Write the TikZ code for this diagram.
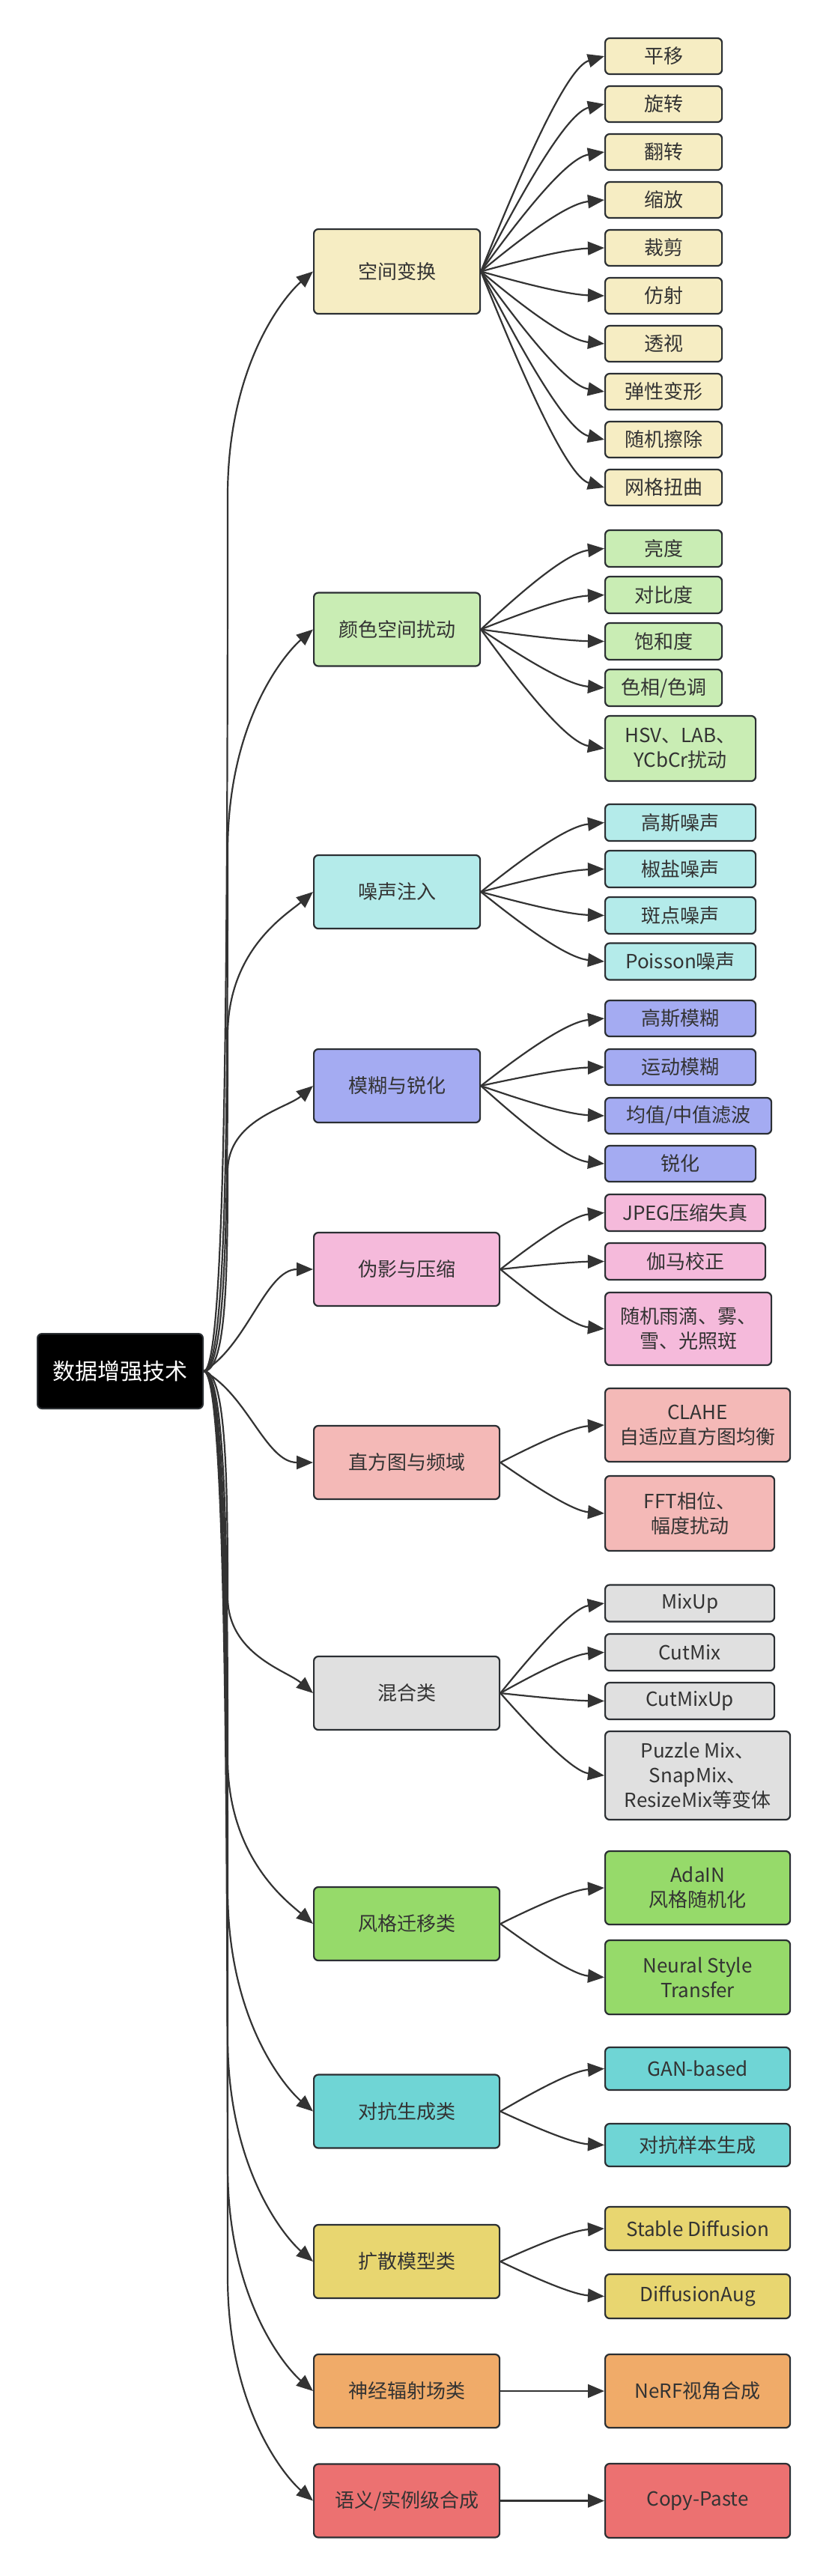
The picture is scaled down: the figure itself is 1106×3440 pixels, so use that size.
\documentclass[tikz,border=0pt]{standalone}
\usepackage{fontspec}
\setmainfont{Noto Sans CJK SC}
\usetikzlibrary{arrows.meta,calc}
\definecolor{bordc}{HTML}{2B2F33}
\definecolor{edgec}{HTML}{333333}
\definecolor{textc}{HTML}{333333}
\definecolor{fA}{HTML}{F6EDC3}
\definecolor{fB}{HTML}{C9EDB4}
\definecolor{fC}{HTML}{B4EBEA}
\definecolor{fD}{HTML}{A4ABF2}
\definecolor{fE}{HTML}{F5BADB}
\definecolor{fF}{HTML}{F4B9B7}
\definecolor{fG}{HTML}{E0E0E0}
\definecolor{fH}{HTML}{96DA6A}
\definecolor{fI}{HTML}{6FD5D5}
\definecolor{fJ}{HTML}{E8D670}
\definecolor{fK}{HTML}{F0AB69}
\definecolor{fL}{HTML}{EC7171}
\newcommand\redge[2]{%
 \pgfmathsetmacro\rdd{#2-1831}%
 \pgfmathsetmacro\raa{abs(\rdd)}%
 \pgfmathsetmacro\rss{\rdd>0 ? 1 : -1}%
 \ifdim\raa pt<200pt
  \pgfmathsetmacro\rcy{1831+0.25*\rdd}%
  \draw[arr] (root.east) .. controls (330,\rcy) and (355,#2) .. (#1.west);
 \else
  \pgfmathsetmacro\rL{min(300,max(80,0.3*\raa))}%
  \pgfmathsetmacro\rmy{#2-\rss*\rL}%
  \pgfmathsetmacro\ray{1831+\rss*0.4*(\raa-\rL)}%
  \pgfmathsetmacro\rby{#2-\rss*0.4*\rL}%
  \pgfmathsetmacro\rey{#2-\rss*30}%
  \draw[arr] (root.east) .. controls (300,1831) and (304,\ray) .. (304,\rmy) .. controls (304,\rby) and (383,\rey) .. (#1.west);
 \fi}
\newcommand\ledge[2]{%
 \draw[arr] let \p1=(#1.east), \p2=(#2.west) in (\p1) .. controls ({\x1+0.35*(\x2-\x1)},{\y1+0.5*(\y2-\y1)}) and ({\x2-0.3*(\x2-\x1)},{\y2+0.05*(\y1-\y2)}) .. (\p2);}
\begin{document}
\begin{tikzpicture}[x=1pt,y=-1pt,
  box/.style={draw=bordc, line width=2.2pt, rounded corners=6pt, inner sep=0pt,
    align=center, text=textc, font=\fontsize{26}{33}\selectfont, anchor=west},
  cat/.style={box, minimum height=98pt},
  leaf/.style={box, minimum height=48pt},
  arr/.style={draw=edgec, line width=2.2pt, -{Triangle[length=22pt,width=18pt]}}]
\useasboundingbox (0,0) rectangle (1106,3440);
% root
\node[draw=bordc, line width=2pt, rounded corners=6pt, fill=black, text=white,
  minimum width=221pt, minimum height=100pt, inner sep=0pt,
  font=\fontsize{30}{36}\selectfont] (root) at (160.5,1831) {数据增强技术};
% categories
\node[cat, fill=fA, minimum width=222pt, minimum height=113pt] (c1) at (418,362.5) {空间变换};
\node[cat, fill=fB, minimum width=222pt] (c2) at (418,840.5) {颜色空间扰动};
\node[cat, fill=fC, minimum width=222pt] (c3) at (418,1191) {噪声注入};
\node[cat, fill=fD, minimum width=222pt] (c4) at (418,1450) {模糊与锐化};
\node[cat, fill=fE, minimum width=248pt] (c5) at (418,1695) {伪影与压缩};
\node[cat, fill=fF, minimum width=248pt] (c6) at (418,1953) {直方图与频域};
\node[cat, fill=fG, minimum width=248pt] (c7) at (418,2261) {混合类};
\node[cat, fill=fH, minimum width=248pt] (c8) at (418,2569) {风格迁移类};
\node[cat, fill=fI, minimum width=248pt] (c9) at (418,2819.5) {对抗生成类};
\node[cat, fill=fJ, minimum width=248pt] (c10) at (418,3020) {扩散模型类};
\node[cat, fill=fK, minimum width=248pt] (c11) at (418,3193) {神经辐射场类};
\node[cat, fill=fL, minimum width=248pt] (c12) at (418,3339.5) {语义/实例级合成};
% leaves of c1
\node[leaf, fill=fA, minimum width=156pt] (a1) at (807,75) {平移};
\node[leaf, fill=fA, minimum width=156pt] (a2) at (807,139) {旋转};
\node[leaf, fill=fA, minimum width=156pt] (a3) at (807,203) {翻转};
\node[leaf, fill=fA, minimum width=156pt] (a4) at (807,267) {缩放};
\node[leaf, fill=fA, minimum width=156pt] (a5) at (807,331) {裁剪};
\node[leaf, fill=fA, minimum width=156pt] (a6) at (807,395) {仿射};
\node[leaf, fill=fA, minimum width=156pt] (a7) at (807,459) {透视};
\node[leaf, fill=fA, minimum width=156pt] (a8) at (807,523) {弹性变形};
\node[leaf, fill=fA, minimum width=156pt] (a9) at (807,587) {随机擦除};
\node[leaf, fill=fA, minimum width=156pt] (a10) at (807,651) {网格扭曲};
% leaves of c2
\node[leaf, fill=fB, minimum width=156pt, minimum height=49pt] (b1) at (807,732.5) {亮度};
\node[leaf, fill=fB, minimum width=156pt, minimum height=49pt] (b2) at (807,794.5) {对比度};
\node[leaf, fill=fB, minimum width=156pt, minimum height=49pt] (b3) at (807,856.5) {饱和度};
\node[leaf, fill=fB, minimum width=156pt, minimum height=49pt] (b4) at (807,918.5) {色相/色调};
\node[leaf, fill=fB, minimum width=201pt, minimum height=87pt] (b5) at (807,999.5) {HSV、LAB、\\YCbCr扰动};
% leaves of c3
\node[leaf, fill=fC, minimum width=201pt, minimum height=49pt] (d1) at (807,1098.5) {高斯噪声};
\node[leaf, fill=fC, minimum width=201pt, minimum height=49pt] (d2) at (807,1160.5) {椒盐噪声};
\node[leaf, fill=fC, minimum width=201pt, minimum height=49pt] (d3) at (807,1222.5) {斑点噪声};
\node[leaf, fill=fC, minimum width=201pt, minimum height=49pt] (d4) at (807,1284) {Poisson噪声};
% leaves of c4
\node[leaf, fill=fD, minimum width=201pt] (e1) at (807,1360) {高斯模糊};
\node[leaf, fill=fD, minimum width=201pt] (e2) at (807,1425) {运动模糊};
\node[leaf, fill=fD, minimum width=222pt] (e3) at (807,1490) {均值/中值滤波};
\node[leaf, fill=fD, minimum width=201pt] (e4) at (807,1554) {锐化};
% leaves of c5
\node[leaf, fill=fE, minimum width=214pt, minimum height=49pt] (g1) at (807,1619.5) {JPEG压缩失真};
\node[leaf, fill=fE, minimum width=214pt, minimum height=49pt] (g2) at (807,1684.5) {伽马校正};
\node[leaf, fill=fE, minimum width=222pt, minimum height=97pt] (g3) at (807,1774.5) {随机雨滴、雾、\\雪、光照斑};
% leaves of c6
\node[leaf, fill=fF, minimum width=247pt, minimum height=98pt] (h1) at (807,1903) {CLAHE\\自适应直方图均衡};
\node[leaf, fill=fF, minimum width=226pt, minimum height=100pt] (h2) at (807,2021) {FFT相位、\\幅度扰动};
% leaves of c7
\node[leaf, fill=fG, minimum width=226pt, minimum height=49pt] (i1) at (807,2141) {MixUp};
\node[leaf, fill=fG, minimum width=226pt, minimum height=49pt] (i2) at (807,2206.5) {CutMix};
\node[leaf, fill=fG, minimum width=226pt, minimum height=49pt] (i3) at (807,2271.5) {CutMixUp};
\node[leaf, fill=fG, minimum width=247pt, minimum height=118pt] (i4) at (807,2371) {Puzzle Mix、\\SnapMix、\\ResizeMix等变体};
% leaves of c8
\node[leaf, fill=fH, minimum width=247pt, minimum height=98pt] (j1) at (807,2521) {AdaIN\\风格随机化};
\node[leaf, fill=fH, minimum width=247pt, minimum height=99pt] (j2) at (807,2640.5) {Neural Style\\Transfer};
% leaves of c9
\node[leaf, fill=fI, minimum width=247pt, minimum height=57pt] (k1) at (807,2762.5) {GAN-based};
\node[leaf, fill=fI, minimum width=247pt, minimum height=57pt] (k2) at (807,2864.5) {对抗样本生成};
% leaves of c10
\node[leaf, fill=fJ, minimum width=247pt, minimum height=58pt] (m1) at (807,2976) {Stable Diffusion};
\node[leaf, fill=fJ, minimum width=247pt, minimum height=59pt] (m2) at (807,3066.5) {DiffusionAug};
% leaves of c11, c12
\node[leaf, fill=fK, minimum width=247pt, minimum height=98pt] (n1) at (807,3193) {NeRF视角合成};
\node[leaf, fill=fL, minimum width=247pt, minimum height=99pt] (p1) at (807,3339.5) {Copy-Paste};
% root edges
\redge{c1}{362.5}
\redge{c2}{840.5}
\redge{c3}{1191}
\redge{c4}{1450}
\redge{c5}{1695}
\redge{c6}{1953}
\redge{c7}{2261}
\redge{c8}{2569}
\redge{c9}{2819.5}
\redge{c10}{3020}
\redge{c11}{3193}
\redge{c12}{3339.5}
% leaf edges
\foreach \l in {a1,a2,a3,a4,a5,a6,a7,a8,a9,a10} {\ledge{c1}{\l}}
\foreach \l in {b1,b2,b3,b4,b5} {\ledge{c2}{\l}}
\foreach \l in {d1,d2,d3,d4} {\ledge{c3}{\l}}
\foreach \l in {e1,e2,e3,e4} {\ledge{c4}{\l}}
\foreach \l in {g1,g2,g3} {\ledge{c5}{\l}}
\foreach \l in {h1,h2} {\ledge{c6}{\l}}
\foreach \l in {i1,i2,i3,i4} {\ledge{c7}{\l}}
\foreach \l in {j1,j2} {\ledge{c8}{\l}}
\foreach \l in {k1,k2} {\ledge{c9}{\l}}
\foreach \l in {m1,m2} {\ledge{c10}{\l}}
\ledge{c11}{n1}
\ledge{c12}{p1}
\end{tikzpicture}
\end{document}
